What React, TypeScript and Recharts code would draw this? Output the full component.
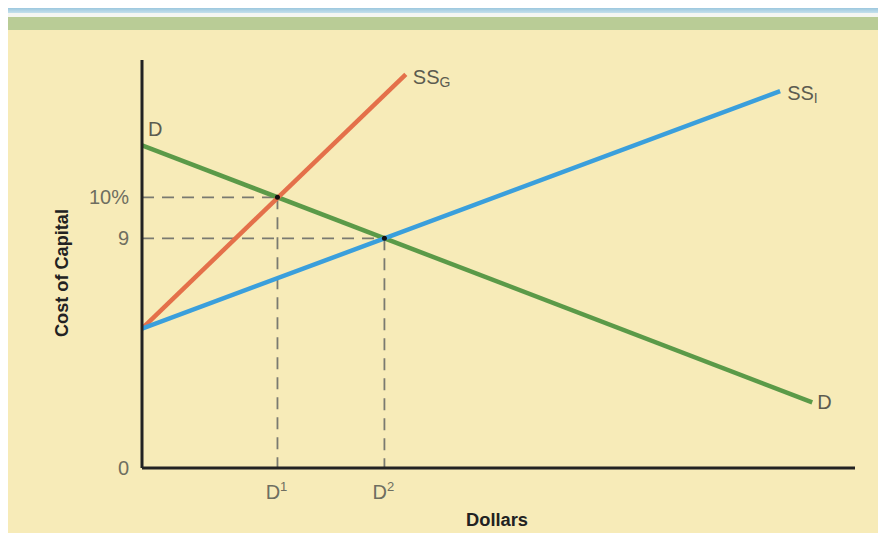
import React from "react";
import { LineChart, Line, XAxis, YAxis, ReferenceLine } from "recharts";

// cost of capital (%) vs dollars, diagram units; the y axis is broken below 9
const yTicks = [3.4, 9, 10];
const yTickLabels: Record<number, string> = { 3.4: "0", 9: "9", 10: "10%" };
const xTicks = [19, 34];
const xTickSup: Record<number, string> = { 19: "1", 34: "2" };

const demand = [
  { x: 0, y: 11.27 },
  { x: 94, y: 5.0 },
];
const supplyGov = [
  { x: 0, y: 6.8 },
  { x: 37, y: 13.0 },
];
const supplyInd = [
  { x: 0, y: 6.8 },
  { x: 89.5, y: 12.59 },
];
const equilibria = [
  { x: 19, y: 10 },
  { x: 34, y: 9 },
];

const W = 878;
const H = 525;
const labelFill = "#5c5c50";
const tickFill = "#6e6e60";
const font = "'Liberation Sans', Arial, sans-serif";
const titleFont = "'Liberation Sans', Arial, sans-serif";

function EndLabel(props: any) {
  const { x, y, index, text, sub, dx = 8, dy = 0, last } = props;
  if (index !== last) return null;
  return (
    <text x={x + dx} y={y + dy} fill={labelFill} fontSize={20} fontFamily={font} dominantBaseline="central">
      {text}
      {sub && (
        <tspan fontSize={14} dy={5}>
          {sub}
        </tspan>
      )}
    </text>
  );
}

function YTick(props: any) {
  const { x, y, payload } = props;
  return (
    <text x={x - 5} y={y} textAnchor="end" dominantBaseline="central" fill={tickFill} fontSize={20} fontFamily={font}>
      {yTickLabels[payload.value]}
    </text>
  );
}

function XTick(props: any) {
  const { x, y, payload } = props;
  return (
    <text x={x - 1} y={y + 23} textAnchor="middle" fill={tickFill} fontSize={20} fontFamily={font}>
      D
      <tspan fontSize={13} dy={-8}>
        {xTickSup[payload.value]}
      </tspan>
    </text>
  );
}

function Dot(props: any) {
  const { cx, cy } = props;
  return <circle cx={cx} cy={cy} r={2.5} fill="#111" />;
}

export default function App() {
  return (
    <div style={{ position: "relative", width: W, height: H, background: "#f7ebb8", overflow: "hidden" }}>
      <div style={{ position: "absolute", left: 0, top: 0, width: W, height: 5, background: "linear-gradient(#9cc7de, #c4e0ec)" }} />
      <div style={{ position: "absolute", left: 0, top: 5, width: W, height: 4, background: "#f4f6f2" }} />
      <div style={{ position: "absolute", left: 0, top: 9, width: W, height: 13, background: "#b9cc96" }} />
      <div style={{ position: "absolute", left: 0, top: 0 }}>
        <LineChart width={W} height={H} margin={{ top: 52, right: 31, bottom: 25, left: 0 }}>
          <XAxis
            type="number"
            dataKey="x"
            domain={[0, 100]}
            ticks={xTicks}
            tick={<XTick />}
            tickLine={false}
            axisLine={{ stroke: "#222", strokeWidth: 3 }}
            height={40}
            allowDataOverflow
          />
          <YAxis
            type="number"
            dataKey="y"
            domain={[3.4, 13.35]}
            ticks={yTicks}
            tick={<YTick />}
            tickLine={false}
            axisLine={{ stroke: "#222", strokeWidth: 3 }}
            width={134}
            allowDataOverflow
          />
          <ReferenceLine segment={[{ x: 0, y: 10 }, { x: 19, y: 10 }]} stroke="#7a7a70" strokeWidth={1.8} strokeDasharray="12 8" />
          <ReferenceLine segment={[{ x: 0, y: 9 }, { x: 34, y: 9 }]} stroke="#7a7a70" strokeWidth={1.8} strokeDasharray="12 8" />
          <ReferenceLine segment={[{ x: 19, y: 10 }, { x: 19, y: 3.4 }]} stroke="#7a7a70" strokeWidth={1.8} strokeDasharray="12 8" />
          <ReferenceLine segment={[{ x: 34, y: 9 }, { x: 34, y: 3.4 }]} stroke="#7a7a70" strokeWidth={1.8} strokeDasharray="12 8" />
          <Line
            data={demand}
            dataKey="y"
            stroke="#5b9a48"
            strokeWidth={4.5}
            dot={false}
            isAnimationActive={false}
            label={(p: any) => (
              <g key={`dl${p.index}`}>
                <EndLabel {...p} text="D" last={0} dx={6} dy={-16} />
                <EndLabel {...p} text="D" last={1} dx={5} dy={0} />
              </g>
            )}
          />
          <Line
            data={supplyGov}
            dataKey="y"
            stroke="#e4704a"
            strokeWidth={4.5}
            dot={false}
            isAnimationActive={false}
            label={(p: any) => <EndLabel key={`g${p.index}`} {...p} text="SS" sub="G" last={1} dx={7} dy={3} />}
          />
          <Line
            data={supplyInd}
            dataKey="y"
            stroke="#3a9fdc"
            strokeWidth={4.5}
            dot={false}
            isAnimationActive={false}
            label={(p: any) => <EndLabel key={`i${p.index}`} {...p} text="SS" sub="I" last={1} dx={7} dy={2} />}
          />
          <Line data={equilibria} dataKey="y" stroke="none" dot={<Dot />} activeDot={false} isAnimationActive={false} />
          <text
            transform="translate(54, 265) rotate(-90)"
            textAnchor="middle"
            dominantBaseline="central"
            fontFamily={titleFont}
            fontWeight="bold"
            fontSize={18}
            textLength={128}
            lengthAdjust="spacingAndGlyphs"
            fill="#222"
          >
            Cost of Capital
          </text>
          <text
            x={489}
            y={518}
            textAnchor="middle"
            fontFamily={titleFont}
            fontWeight="bold"
            fontSize={18}
            textLength={62}
            lengthAdjust="spacingAndGlyphs"
            fill="#222"
          >
            Dollars
          </text>
        </LineChart>
      </div>
    </div>
  );
}
